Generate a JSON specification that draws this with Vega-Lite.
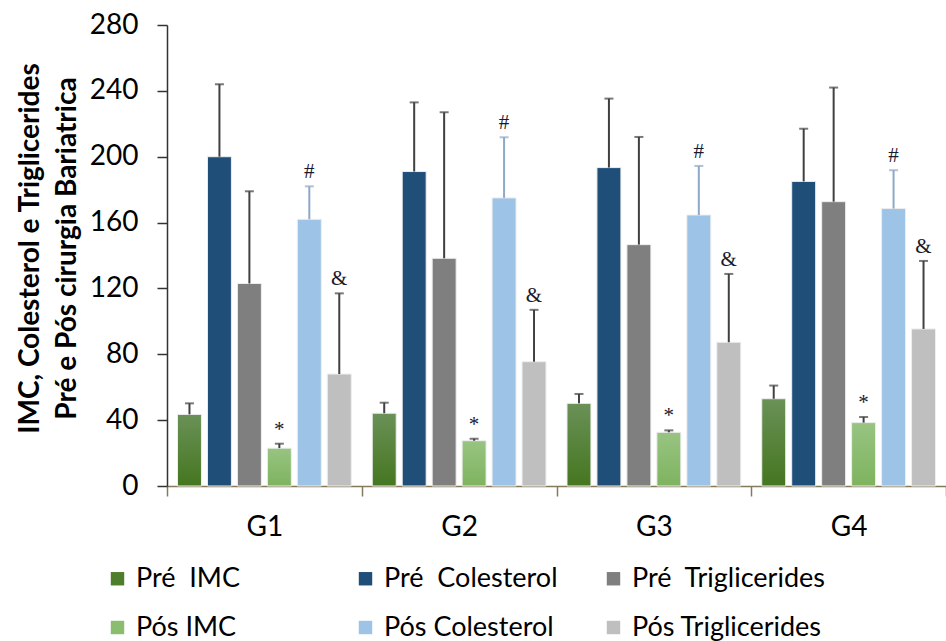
{
  "$schema": "https://vega.github.io/schema/vega-lite/v6.json",
  "width": 779,
  "height": 461,
  "autosize": {"type": "none"},
  "padding": {"left": 167, "top": 25, "right": 0, "bottom": 155},
  "config": {"view": {"stroke": null}, "font": "Lato"},
  "data": {
    "values": [
      {"grupo": "G1", "serie": "Pré  IMC", "valor": 43.5, "sup": 50.2, "sig": ""},
      {"grupo": "G1", "serie": "Pré  Colesterol", "valor": 200, "sup": 244, "sig": ""},
      {"grupo": "G1", "serie": "Pré  Triglicerides", "valor": 123, "sup": 179, "sig": ""},
      {"grupo": "G1", "serie": "Pós IMC", "valor": 23, "sup": 25.7, "sig": "*"},
      {"grupo": "G1", "serie": "Pós Colesterol", "valor": 162, "sup": 182, "sig": "#"},
      {"grupo": "G1", "serie": "Pós Triglicerides", "valor": 68, "sup": 117, "sig": "&"},
      {"grupo": "G2", "serie": "Pré  IMC", "valor": 44.2, "sup": 50.6, "sig": ""},
      {"grupo": "G2", "serie": "Pré  Colesterol", "valor": 191, "sup": 233, "sig": ""},
      {"grupo": "G2", "serie": "Pré  Triglicerides", "valor": 138.3, "sup": 227, "sig": ""},
      {"grupo": "G2", "serie": "Pós IMC", "valor": 27.5, "sup": 28.7, "sig": "*"},
      {"grupo": "G2", "serie": "Pós Colesterol", "valor": 175, "sup": 211.8, "sig": "#"},
      {"grupo": "G2", "serie": "Pós Triglicerides", "valor": 75.5, "sup": 107, "sig": "&"},
      {"grupo": "G3", "serie": "Pré  IMC", "valor": 50.2, "sup": 55.9, "sig": ""},
      {"grupo": "G3", "serie": "Pré  Colesterol", "valor": 193.4, "sup": 235.3, "sig": ""},
      {"grupo": "G3", "serie": "Pré  Triglicerides", "valor": 146.6, "sup": 212, "sig": ""},
      {"grupo": "G3", "serie": "Pós IMC", "valor": 32.6, "sup": 33.8, "sig": "*"},
      {"grupo": "G3", "serie": "Pós Colesterol", "valor": 164.6, "sup": 194.4, "sig": "#"},
      {"grupo": "G3", "serie": "Pós Triglicerides", "valor": 87.3, "sup": 128.8, "sig": "&"},
      {"grupo": "G4", "serie": "Pré  IMC", "valor": 53, "sup": 61, "sig": ""},
      {"grupo": "G4", "serie": "Pré  Colesterol", "valor": 185, "sup": 217, "sig": ""},
      {"grupo": "G4", "serie": "Pré  Triglicerides", "valor": 172.7, "sup": 242, "sig": ""},
      {"grupo": "G4", "serie": "Pós IMC", "valor": 38.5, "sup": 41.9, "sig": "*"},
      {"grupo": "G4", "serie": "Pós Colesterol", "valor": 168.5, "sup": 191.8, "sig": "#"},
      {"grupo": "G4", "serie": "Pós Triglicerides", "valor": 95.4, "sup": 136.7, "sig": "&"}
    ]
  },
  "encoding": {
    "x": {
      "field": "grupo",
      "type": "nominal",
      "scale": {"paddingInner": 0, "paddingOuter": 0},
      "axis": {
        "title": null,
        "labelAngle": 0,
        "labelFontSize": 28,
        "labelColor": "#000000",
        "labelPadding": 17,
        "domainColor": "#857a5c",
        "domainWidth": 1.5,
        "tickColor": "#857a5c",
        "tickWidth": 1.5,
        "tickSize": 10,
        "tickBand": "extent"
      }
    },
    "xOffset": {
      "field": "serie",
      "type": "nominal",
      "sort": ["Pré  IMC", "Pré  Colesterol", "Pré  Triglicerides", "Pós IMC", "Pós Colesterol", "Pós Triglicerides"],
      "scale": {"paddingInner": 0.2, "paddingOuter": 0.35}
    }
  },
  "layer": [
    {
      "mark": {"type": "bar", "stroke": "#eeeeee", "strokeWidth": 1},
      "encoding": {
        "y": {
          "field": "valor",
          "type": "quantitative",
          "scale": {"domain": [0, 280], "nice": false},
          "axis": {
            "values": [0, 40, 80, 120, 160, 200, 240, 280],
            "grid": false,
            "labelFontSize": 28,
            "labelColor": "#000000",
            "labelPadding": 19,
            "tickSize": 10,
            "tickColor": "#333333",
            "domainColor": "#333333",
            "domainWidth": 1.5,
            "tickWidth": 1.5,
            "title": ["IMC, Colesterol e Triglicerides", "Pré e Pós cirurgia Bariatrica"],
            "titleFontSize": 28,
            "titleFontWeight": "bold",
            "titleColor": "#000000",
            "titleLineHeight": 37,
            "titlePadding": 8,
            "titleY": 223
          }
        },
        "color": {
          "condition": [
            {"test": "datum.serie === 'Pré  IMC'", "value": {"gradient": "linear", "x1": 0, "y1": 0, "x2": 0, "y2": 1, "stops": [{"offset": 0, "color": "#6a9157"}, {"offset": 1, "color": "#457620"}]}},
            {"test": "datum.serie === 'Pós IMC'", "value": {"gradient": "linear", "x1": 0, "y1": 0, "x2": 0, "y2": 1, "stops": [{"offset": 0, "color": "#98c482"}, {"offset": 1, "color": "#7eb35e"}]}}
          ],
          "field": "serie",
          "type": "nominal",
          "scale": {
            "domain": ["Pré  IMC", "Pré  Colesterol", "Pré  Triglicerides", "Pós IMC", "Pós Colesterol", "Pós Triglicerides"],
            "range": ["#4e7d2c", "#1f4e79", "#7f7f7f", "#8bbd6f", "#9dc3e6", "#bfbfbf"]
          },
          "legend": {
            "title": null,
            "orient": "none",
            "legendX": -63,
            "legendY": 540,
            "direction": "horizontal",
            "columns": 3,
            "gridAlign": "all",
            "columnPadding": 22,
            "rowPadding": 21,
            "symbolType": "square",
            "symbolSize": 180,
            "symbolStrokeWidth": 0,
            "labelFontSize": 27,
            "labelColor": "#000000",
            "labelOffset": 5,
            "labelLimit": 400,
            "labelExpr": "replace(datum.label, '  ', '\u00a0 ')"
          }
        }
      }
    },
    {
      "mark": {"type": "rule", "strokeWidth": 2},
      "encoding": {
        "y": {"field": "valor", "type": "quantitative"},
        "y2": {"field": "sup"},
        "color": {"condition": {"test": "datum.serie === 'Pós Colesterol'", "value": "#8ea8c8"}, "value": "#404040"}
      }
    },
    {
      "mark": {"type": "tick", "thickness": 2, "size": 9},
      "encoding": {
        "y": {"field": "sup", "type": "quantitative"},
        "color": {"condition": {"test": "datum.serie === 'Pós Colesterol'", "value": "#8ea8c8"}, "value": "#404040"}
      }
    },
    {
      "transform": [{"filter": "datum.sig != ''"}],
      "mark": {"type": "text", "font": "Liberation Serif", "fontSize": 21, "baseline": "bottom", "dy": -4, "color": "#1a1a2e"},
      "encoding": {
        "y": {"field": "sup", "type": "quantitative"},
        "text": {"field": "sig"}
      }
    }
  ]
}
